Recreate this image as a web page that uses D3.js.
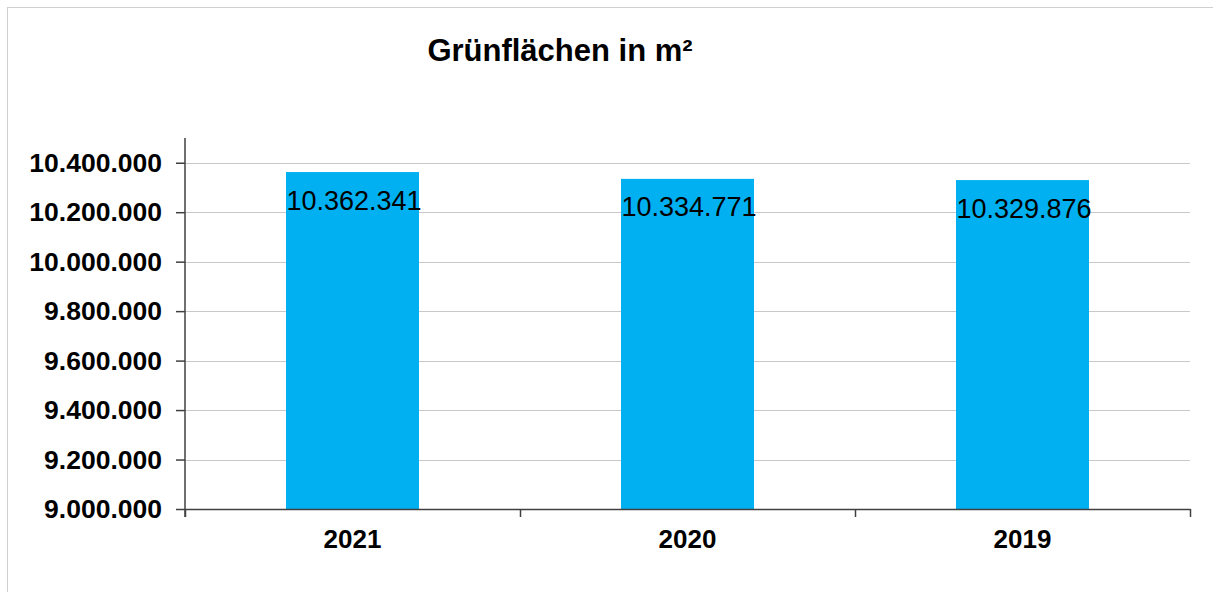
<!DOCTYPE html>
<html>
<head>
<meta charset="utf-8">
<script src="https://cdn.jsdelivr.net/npm/d3@7"></script>
<style>
  body { margin: 0; background: #fff; }
  svg { display: block; font-family: Arial, "Liberation Sans", sans-serif; }
</style>
</head>
<body>
<svg width="1213" height="592"></svg>
<script>
// data
var years = ["2021", "2020", "2019"];
var values = [10362341, 10334771, 10329876];
var yTicks = [9000000, 9200000, 9400000, 9600000, 9800000, 10000000, 10200000, 10400000];
var title = "Grünflächen in m²";

var de = d3.formatLocale({decimal: ",", thousands: ".", grouping: [3], currency: ["", " €"]});
var fmt = de.format(",d");

var svg = d3.select("svg");

// outer frame
svg.append("rect")
    .attr("x", 7.5).attr("y", 7.5)
    .attr("width", 1230).attr("height", 600)
    .attr("fill", "none")
    .attr("stroke", "#d0d0d0")
    .attr("stroke-width", 1);

var plotL = 185, plotR = 1190, plotT = 138, plotB = 509;

var y = d3.scaleLinear().domain([9000000, 10500000]).range([plotB, plotT]);
var x = d3.scaleBand().domain(years).range([plotL, plotR])
    .paddingInner(0.603).paddingOuter(0.3015);
var xt = d3.scaleLinear().domain([0, years.length]).range([plotL, plotR]);

// title
svg.append("text")
    .attr("x", 560).attr("y", 61)
    .attr("text-anchor", "middle")
    .attr("font-size", "31px")
    .attr("font-weight", "bold")
    .attr("fill", "#000")
    .text(title);

// gridlines
svg.append("g")
    .selectAll("line")
    .data(yTicks)
    .enter()
    .append("line")
    .attr("x1", plotL).attr("x2", plotR)
    .attr("y1", function(d){ return Math.round(y(d)) + 0.5; })
    .attr("y2", function(d){ return Math.round(y(d)) + 0.5; })
    .attr("stroke", "#c8c8c8")
    .attr("stroke-width", 1.2);

// bars
svg.append("g")
    .selectAll("rect")
    .data(values)
    .enter()
    .append("rect")
    .attr("x", function(d,i){ return x(years[i]); })
    .attr("y", function(d){ return y(d); })
    .attr("width", x.bandwidth())
    .attr("height", function(d){ return plotB - y(d); })
    .attr("fill", "#00b0f0");

// value labels
svg.append("g")
    .selectAll("text")
    .data(values)
    .enter()
    .append("text")
    .attr("x", function(d,i){ return x(years[i]) + x.bandwidth()/2 + 1.5; })
    .attr("y", function(d){ return y(d) + 37.5; })
    .attr("text-anchor", "middle")
    .attr("font-size", "27px")
    .attr("fill", "#000")
    .text(function(d){ return fmt(d); });

// y axis
var yAxis = svg.append("g")
    .attr("transform", "translate(" + plotL + ",0)")
    .call(d3.axisLeft(y).tickValues(yTicks).tickSize(9).tickPadding(14).tickFormat(fmt));
yAxis.select(".domain").remove();
yAxis.selectAll(".tick line").attr("stroke", "#404040").attr("stroke-width", 1.5);
yAxis.selectAll(".tick text")
    .attr("font-size", "26.5px")
    .attr("font-weight", "bold")
    .attr("font-family", "Arial, 'Liberation Sans', sans-serif")
    .attr("fill", "#000");
svg.append("line")
    .attr("x1", plotL).attr("x2", plotL)
    .attr("y1", plotT).attr("y2", plotB + 8)
    .attr("stroke", "#404040").attr("stroke-width", 1.5);

// x axis
var xAxis = svg.append("g")
    .attr("transform", "translate(0," + plotB + ")")
    .call(d3.axisBottom(xt).tickValues(d3.range(years.length + 1)).tickSize(8).tickSizeOuter(0).tickFormat(""));
xAxis.select(".domain").attr("stroke", "#404040").attr("stroke-width", 1.5);
xAxis.selectAll(".tick line").attr("stroke", "#404040").attr("stroke-width", 1.5);

svg.append("g")
    .selectAll("text")
    .data(years)
    .enter()
    .append("text")
    .attr("x", function(d){ return x(d) + x.bandwidth()/2; })
    .attr("y", 548)
    .attr("text-anchor", "middle")
    .attr("font-size", "26px")
    .attr("font-weight", "bold")
    .attr("fill", "#000")
    .text(function(d){ return d; });
</script>
</body>
</html>
